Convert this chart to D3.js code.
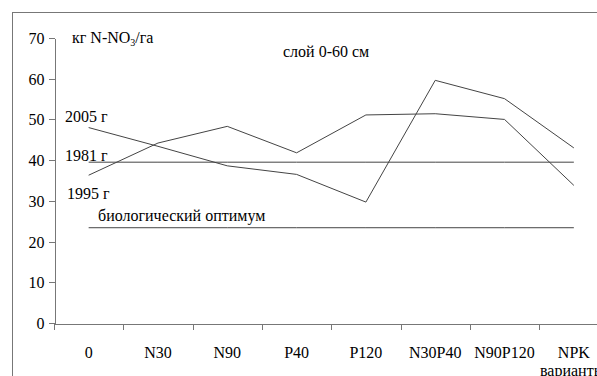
<!DOCTYPE html>
<meta charset="utf-8">
<script src="https://d3js.org/d3.v7.min.js"></script>
<style>
    body { margin: 0; background: #fff; }
    .axis path, .axis line { stroke: #777; stroke-width: 1; shape-rendering: crispEdges; }
    .series { fill: none; stroke: #444; stroke-width: 1; }
</style>
<div id="vis"></div>
<script>
    var width = 597, height = 376
    var fontName = "'Liberation Serif'"

    // data
    var categories = ["0", "N30", "N90", "P40", "P120", "N30P40", "N90P120", "NPK"]
    var y2005 = [48.0, 43.4, 38.6, 36.5, 29.7, 59.6, 55.1, 43.0]
    var y1995 = [36.3, 44.2, 48.3, 41.8, 51.1, 51.4, 50.0, 33.8]
    var y1981 = [39.5, 39.5, 39.5, 39.5, 39.5, 39.5, 39.5, 39.5]
    var optimum = [23.4, 23.4, 23.4, 23.4, 23.4, 23.4, 23.4, 23.4]
    var yTicks = [0, 10, 20, 30, 40, 50, 60, 70]

    var svg = d3.select("#vis").append("svg")
        .attr("width", width)
        .attr("height", height)
        .style("display", "block")

    // outer frame (runs off right and bottom edges)
    svg.append("rect")
        .attr("x", 12.5).attr("y", 12.5)
        .attr("width", 640).attr("height", 420)
        .attr("fill", "none").attr("stroke", "#777")

    var x = d3.scaleBand().domain(categories).range([54, 608.5]).padding(0)
    var y = d3.scaleLinear().domain([0, 70]).range([323, 38])

    // y axis
    var yAxis = svg.append("g")
        .attr("class", "axis")
        .attr("transform", "translate(54.5,0)")
        .call(d3.axisLeft(y).tickValues(yTicks).tickSize(6).tickPadding(4).tickSizeOuter(0))
    yAxis.selectAll("text")
        .attr("dy", "0.34em").attr("fill", "#000")
        .attr("font-family", fontName).attr("font-size", 16)

    // x axis: labels in band centers, ticks at band edges
    var xAxis = svg.append("g")
        .attr("class", "axis")
        .attr("transform", "translate(0,323.5)")
        .call(d3.axisBottom(x).tickSize(0).tickPadding(23).tickSizeOuter(0))
    xAxis.selectAll("text")
        .attr("fill", "#000")
        .attr("font-family", fontName).attr("font-size", 16)
    xAxis.selectAll(".tick line").remove()
    xAxis.selectAll(".edge")
        .data(categories)
        .enter().append("line")
        .attr("class", "edge")
        .attr("x1", function (d) { return Math.round(x(d)) + 0.5 })
        .attr("x2", function (d) { return Math.round(x(d)) + 0.5 })
        .attr("y1", 0).attr("y2", 6)

    var line = d3.line()
        .x(function (d, i) { return x(categories[i]) + x.bandwidth() / 2 })
        .y(function (d) { return y(d) })

    ;[y2005, y1995, y1981, optimum].forEach(function (s) {
        svg.append("path").datum(s).attr("class", "series").attr("d", line)
    })

    // annotations
    function note(xp, yp, txt) {
        return svg.append("text")
            .attr("x", xp).attr("y", yp)
            .attr("font-family", fontName).attr("font-size", 16)
            .attr("fill", "#000")
            .text(txt)
    }
    var unit = note(72, 43, "")
    unit.append("tspan").text("кг N-NO")
    unit.append("tspan").attr("font-size", 10).attr("dy", 3).text("3")
    unit.append("tspan").attr("dy", -3).text("/га")

    note(283, 57, "слой 0-60 см")
    note(65, 122, "2005 г")
    note(65, 161, "1981 г")
    note(67, 199, "1995 г")
    note(98, 221, "биологический оптимум")
    note(540, 376, "варианты")
</script>
